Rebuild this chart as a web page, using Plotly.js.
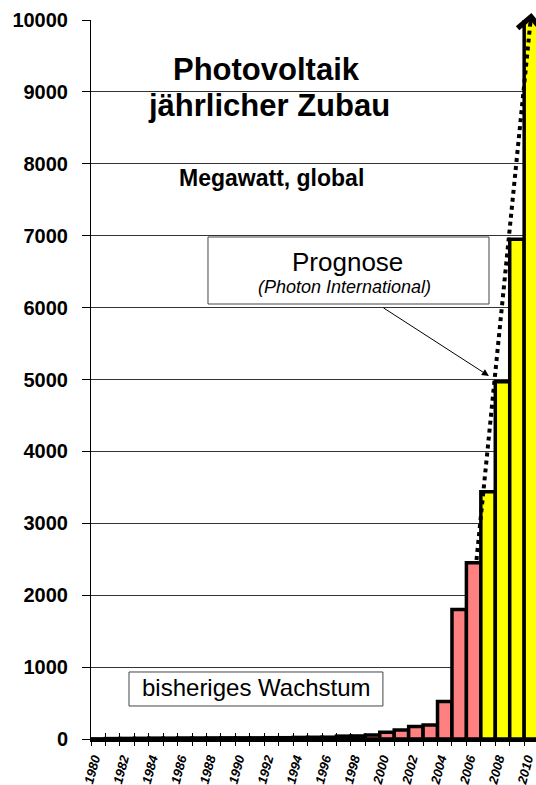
<!DOCTYPE html>
<html>
<head>
<meta charset="utf-8">
<script src="https://cdn.plot.ly/plotly-3.0.1.min.js"></script>
<style>html,body{margin:0;padding:0;background:#fff;}#chart{width:536px;height:785px;}</style>
</head>
<body>
<div id="chart"></div>
<script>
// Historical growth (Megawatt, global)
const histYears = [1980,1981,1982,1983,1984,1985,1986,1987,1988,1989,1990,1991,1992,1993,1994,1995,1996,1997,1998,1999,2000,2001,2002,2003,2004,2005,2006];
const histValues = [2,6,8,10,12,12,14,14,15,16,16,16,18,18,22,24,25,40,42,55,95,125,175,195,520,1800,2450];
// Forecast (Photon International)
const progYears = [2007,2008,2009,2010];
const progValues = [3440,4970,6950,10100];
// Trend arrow
const trendYears = [2006.2,2010];
const trendValues = [2490,10100];
// Axis ticks
const yTicks = [0,1000,2000,3000,4000,5000,6000,7000,8000,9000,10000];
const tickYears = [1980,1981,1982,1983,1984,1985,1986,1987,1988,1989,1990,1991,1992,1993,1994,1995,1996,1997,1998,1999,2000,2001,2002,2003,2004,2005,2006,2007,2008,2009,2010];
const tickLabels = ['1980','','1982','','1984','','1986','','1988','','1990','','1992','','1994','','1996','','1998','','2000','','2002','','2004','','2006','','2008','','2010'];

const boundaries = tickYears.map(y => y - 0.5);
const FONT = '"Liberation Sans", Arial, sans-serif';
const xRange = [1979.5, 2010.32];

const traces = [
  {type:'bar', x:histYears, y:histValues, width:1, xaxis:'x', yaxis:'y',
   marker:{color:'#FF8080', line:{color:'#000', width:3.5}}, hoverinfo:'x+y'},
  {type:'bar', x:progYears, y:progValues, width:1, xaxis:'x', yaxis:'y',
   marker:{color:'#FFFF00', line:{color:'#000', width:3.5}}, hoverinfo:'x+y'},
  {type:'scatter', mode:'lines', x:trendYears, y:trendValues, xaxis:'x2', yaxis:'y',
   line:{color:'#000', width:4, dash:'dot'}, cliponaxis:false, hoverinfo:'skip'}
];

const layout = {
  width:536, height:785,
  margin:{l:91, r:0, t:20, b:46, pad:0},
  paper_bgcolor:'#fff', plot_bgcolor:'#fff',
  showlegend:false, barmode:'overlay', bargap:0,
  font:{family:FONT, color:'#000'},
  xaxis:{range:xRange, tickmode:'array', tickvals:boundaries, ticktext:tickLabels,
    ticks:'outside', ticklen:4, tickcolor:'#000', tickwidth:1,
    tickangle:-75, ticklabelshift:3, ticklabelstandoff:0, ticklabeloverflow:'allow',
    tickfont:{family:FONT, size:13, weight:'bold', style:'italic', color:'#000'},
    showline:true, linecolor:'#000', linewidth:3, showgrid:false, zeroline:false, fixedrange:true},
  xaxis2:{range:xRange, overlaying:'x', anchor:'y', side:'bottom', tickmode:'array', tickvals:boundaries,
    ticks:'inside', ticklen:6, tickcolor:'#000', tickwidth:1, showticklabels:false,
    showline:false, showgrid:false, zeroline:false, fixedrange:true},
  yaxis:{range:[0,10000], tickmode:'array', tickvals:yTicks, ticktext:yTicks.map(String),
    ticks:'outside', ticklen:8, tickcolor:'#000', tickwidth:1, ticklabelstandoff:10,
    tickfont:{family:FONT, size:20, weight:'bold', color:'#000'},
    showline:true, linecolor:'#000', linewidth:1,
    showgrid:true, gridcolor:'#333', gridwidth:1, zeroline:false, fixedrange:true},
  shapes:[
    {type:'rect', xref:'paper', yref:'paper', x0:0.2629, x1:0.8944, y0:0.605, y1:0.6982,
     fillcolor:'#fff', line:{color:'#444', width:1}, layer:'above'},
    {type:'rect', xref:'paper', yref:'paper', x0:0.0854, x1:0.656, y0:0.0459, y1:0.0932,
     fillcolor:'#fff', line:{color:'#444', width:1}, layer:'above'}
  ],
  annotations:[
    {xref:'paper', yref:'paper', x:0.3955, y:0.9305, text:'<b>Photovoltaik</b>', showarrow:false,
     font:{family:FONT, size:31, color:'#000'}, xanchor:'center', yanchor:'middle'},
    {xref:'paper', yref:'paper', x:0.4, y:0.8814, text:'<b>jährlicher Zubau</b>', showarrow:false,
     font:{family:FONT, size:31, color:'#000'}, xanchor:'center', yanchor:'middle'},
    {xref:'paper', yref:'paper', x:0.4067, y:0.7803, text:'<b>Megawatt, global</b>', showarrow:false,
     font:{family:FONT, size:23, color:'#000'}, xanchor:'center', yanchor:'middle'},
    {xref:'paper', yref:'paper', x:0.5764, y:0.6638, text:'Prognose', showarrow:false,
     font:{family:FONT, size:26, color:'#000'}, xanchor:'center', yanchor:'middle'},
    {xref:'paper', yref:'paper', x:0.5697, y:0.6289, text:'<i>(Photon International)</i>', showarrow:false,
     font:{family:FONT, size:18, color:'#000'}, xanchor:'center', yanchor:'middle'},
    {xref:'paper', yref:'paper', x:0.3708, y:0.0713, text:'bisheriges Wachstum', showarrow:false,
     font:{family:FONT, size:24, color:'#000'}, xanchor:'center', yanchor:'middle'},
    {xref:'x', yref:'y', x:2007.06, y:5049, axref:'x', ayref:'y', ax:1999.65, ay:6010,
     text:'', showarrow:true, arrowhead:2, arrowsize:1.4, arrowwidth:1, arrowcolor:'#000'},
    {xref:'x2', yref:'paper', x:trendYears[1], y:1.0097, ax:-1, ay:12,
     text:'', showarrow:true, arrowhead:4, arrowsize:1.6, arrowwidth:3, arrowcolor:'#000'}
  ]
};

Plotly.newPlot('chart', traces, layout, {displayModeBar:false, staticPlot:true});
</script>
</body>
</html>
